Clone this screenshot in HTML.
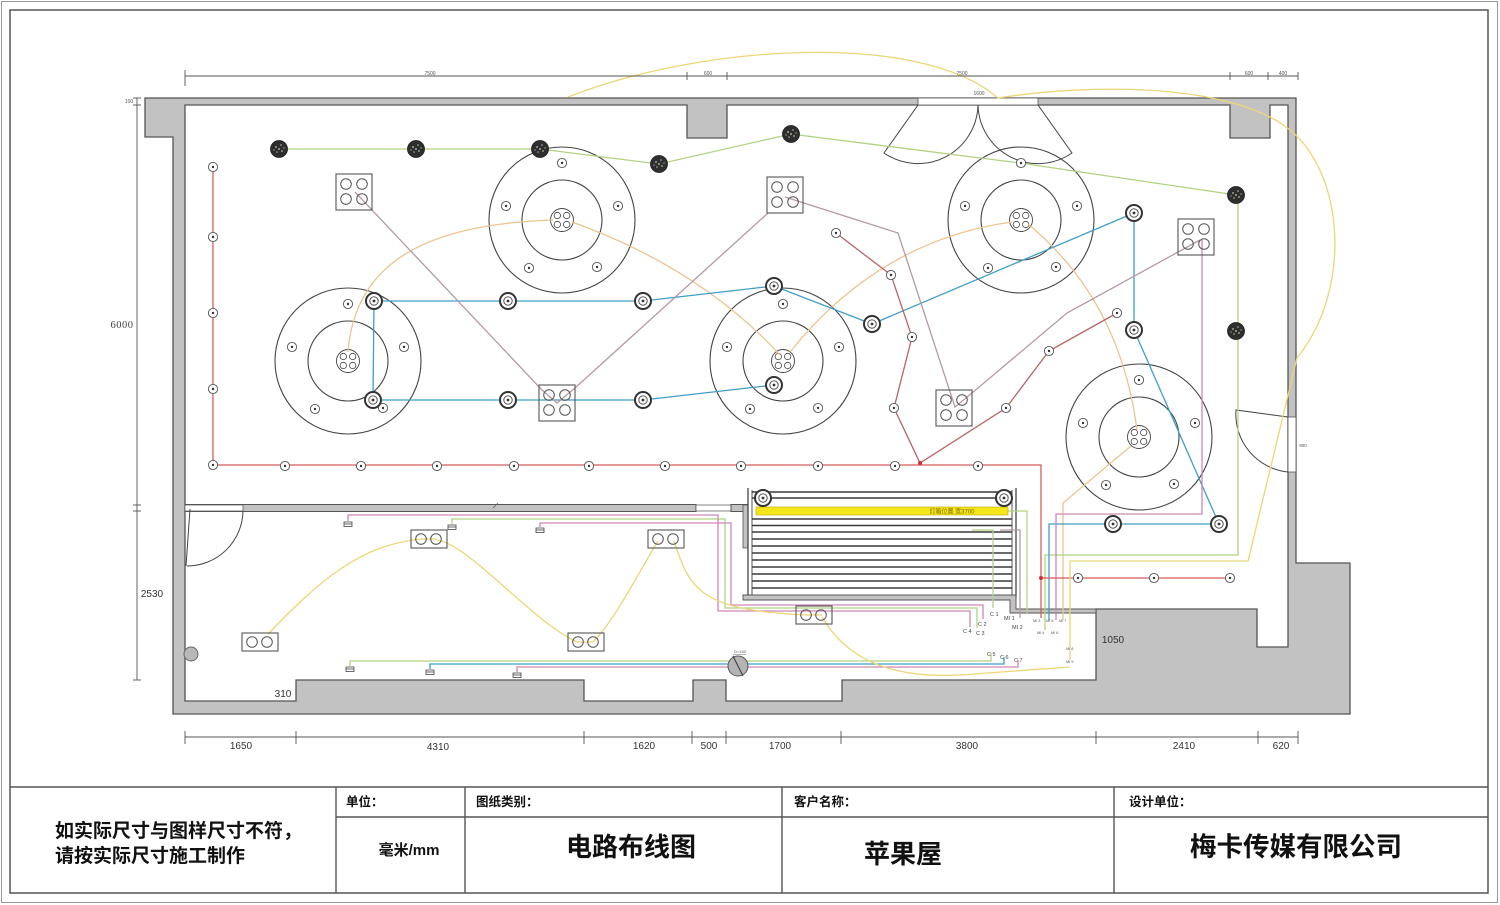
<!DOCTYPE html>
<html><head><meta charset="utf-8">
<style>
html,body{margin:0;padding:0;background:#fff;}
svg{display:block;}
text{font-family:"Liberation Sans","Noto Sans CJK SC",sans-serif;}
</style></head><body>
<svg width="1500" height="905" viewBox="0 0 1500 905" xmlns="http://www.w3.org/2000/svg" xmlns:xlink="http://www.w3.org/1999/xlink">
<defs>
 <g id="sp"><circle r="8" fill="#fff" stroke="#333" stroke-width="2"/><circle r="4.2" fill="none" stroke="#444" stroke-width="0.9"/><circle r="1.4" fill="#333"/></g>
 <g id="mk"><circle r="4.6" fill="#fff" stroke="#555" stroke-width="0.9"/><circle r="1.2" fill="#333"/></g>
 <g id="dl"><circle r="8.5" fill="#2e2e2e" stroke="#1e1e1e" stroke-width="0.8"/><circle cx="-3" cy="-2" r="1" fill="#9aa88a"/><circle cx="2" cy="-4" r="0.8" fill="#bbb"/><circle cx="3" cy="2" r="1" fill="#8a9a7a"/><circle cx="-2" cy="3" r="0.8" fill="#aaa"/><circle cx="0" cy="0" r="0.9" fill="#c8d0b0"/><circle cx="-5" cy="1" r="0.7" fill="#999"/><circle cx="5" cy="-1" r="0.7" fill="#9a9"/></g>
 <g id="fx"><circle r="73" fill="none" stroke="#444" stroke-width="1.1"/><circle r="40" fill="none" stroke="#444" stroke-width="1.1"/><circle r="11.5" fill="none" stroke="#444" stroke-width="0.9"/><circle cx="-4.7" cy="-4.5" r="3.2" fill="none" stroke="#444" stroke-width="0.8"/><circle cx="4.7" cy="-4.5" r="3.2" fill="none" stroke="#444" stroke-width="0.8"/><circle cx="-4.7" cy="4.5" r="3.2" fill="none" stroke="#444" stroke-width="0.8"/><circle cx="4.7" cy="4.5" r="3.2" fill="none" stroke="#444" stroke-width="0.8"/></g>
 <g id="fm"><use xlink:href="#mk" x="0" y="-57"/><use xlink:href="#mk" x="-56" y="-14"/><use xlink:href="#mk" x="56" y="-14"/><use xlink:href="#mk" x="-33" y="48"/><use xlink:href="#mk" x="35" y="47"/></g>
 <g id="q4"><rect x="0" y="0" width="36" height="36" fill="none" stroke="#555" stroke-width="1.1"/><circle cx="10" cy="10" r="5.3" fill="none" stroke="#555" stroke-width="1"/><circle cx="26" cy="10" r="5.3" fill="none" stroke="#555" stroke-width="1"/><circle cx="10" cy="25" r="5.3" fill="none" stroke="#555" stroke-width="1"/><circle cx="26" cy="25" r="5.3" fill="none" stroke="#555" stroke-width="1"/></g>
 <g id="q2"><rect x="0" y="0" width="36" height="18" fill="none" stroke="#555" stroke-width="1.1"/><circle cx="10" cy="9" r="5.3" fill="none" stroke="#555" stroke-width="1"/><circle cx="25" cy="9" r="5.3" fill="none" stroke="#555" stroke-width="1"/></g>
 <g id="sw"><rect x="-4" y="-2" width="8" height="4.5" fill="#fff" stroke="#444" stroke-width="0.8"/><line x1="-4" y1="0" x2="4" y2="0" stroke="#444" stroke-width="0.8"/></g>
</defs>

<rect x="1.5" y="1.5" width="1496" height="901" fill="none" stroke="#999" stroke-width="1"/>
<rect x="10" y="10" width="1478" height="883" fill="none" stroke="#555" stroke-width="1.5"/>

<polygon points="145,98 1296,98 1296,563 1350,563 1350,714 173,714 173,137 145,137" fill="#c2c2c2" stroke="#555" stroke-width="1.3"/>
<polygon points="185,105 687,105 687,138 727,138 727,105 1230,105 1230,138 1270,138 1270,105 1288,105 1288,647 1257,647 1257,609 1096,609 1096,680 842,680 842,701 726,701 726,680 693,680 693,701 584,701 584,680 296,680 296,701 185,701" fill="#fff" stroke="#555" stroke-width="1.3"/>

<rect x="918" y="98" width="120" height="7" fill="#fff" stroke="#555" stroke-width="0.8"/>
<path d="M918,105 L884,153 A60,60 0 0 0 978,105" fill="none" stroke="#444" stroke-width="1"/>
<path d="M1038,105 L1072,153 A60,60 0 0 1 978,105" fill="none" stroke="#444" stroke-width="1"/>
<text x="979" y="95" font-size="5" fill="#555" text-anchor="middle">1600</text>

<rect x="1288" y="417" width="8" height="55" fill="#fff" stroke="#555" stroke-width="0.8"/>
<path d="M1288,417 L1236,410 A58,58 0 0 0 1288,472" fill="none" stroke="#444" stroke-width="1"/>
<text x="1303" y="447" font-size="4.5" fill="#555" text-anchor="middle">900</text>

<rect x="185" y="504.5" width="511" height="7" fill="#c2c2c2" stroke="#555" stroke-width="1"/>
<rect x="696" y="505" width="35" height="6" fill="#fff" stroke="#555" stroke-width="0.7"/>
<rect x="731" y="504.5" width="17" height="7" fill="#c2c2c2" stroke="#555" stroke-width="1"/>
<rect x="743" y="505" width="5" height="43" fill="#c2c2c2" stroke="#555" stroke-width="0.8"/>
<rect x="185" y="505" width="58" height="6" fill="#fff" stroke="#555" stroke-width="0.7"/>
<path d="M243,511 A56,56 0 0 1 187,566" fill="none" stroke="#444" stroke-width="1"/>
<line x1="190" y1="509" x2="186" y2="566" stroke="#444" stroke-width="1"/>
<line x1="493" y1="508" x2="498" y2="503" stroke="#555" stroke-width="0.6"/>

<rect x="748" y="489" width="268" height="107" fill="#fff" stroke="none"/>
<line x1="748" y1="488" x2="748" y2="597" stroke="#444" stroke-width="1.3"/>
<line x1="752" y1="490" x2="752" y2="596" stroke="#444" stroke-width="0.9"/>
<line x1="1016" y1="488" x2="1016" y2="597" stroke="#444" stroke-width="1.3"/>
<line x1="1012" y1="490" x2="1012" y2="596" stroke="#444" stroke-width="0.9"/>
<g stroke="#3a3a3a" stroke-width="1.5">
<line x1="752" y1="492" x2="1012" y2="492"/><line x1="752" y1="498" x2="1012" y2="498"/>
<line x1="752" y1="519" x2="1012" y2="519"/><line x1="752" y1="525.5" x2="1012" y2="525.5"/>
<line x1="752" y1="532" x2="1012" y2="532"/><line x1="752" y1="539" x2="1012" y2="539"/>
<line x1="752" y1="546" x2="1012" y2="546"/><line x1="752" y1="553" x2="1012" y2="553"/>
<line x1="752" y1="560" x2="1012" y2="560"/><line x1="752" y1="567" x2="1012" y2="567"/>
<line x1="752" y1="574" x2="1012" y2="574"/><line x1="752" y1="581" x2="1012" y2="581"/>
<line x1="752" y1="588" x2="1012" y2="588"/>
</g>
<polygon points="743,595 1016,595 1016,609 1096,609 1096,613 1010,613 1010,600 743,600" fill="#c2c2c2" stroke="#555" stroke-width="0.9"/>
<rect x="756" y="507" width="252" height="8" fill="#f5e51c" stroke="#b8a800" stroke-width="0.6"/>
<text x="952" y="513.5" font-size="6" fill="#7a6a00" text-anchor="middle">灯箱位置 宽3700</text>

<use xlink:href="#fx" x="348" y="361"/>
<use xlink:href="#fx" x="562" y="220"/>
<use xlink:href="#fx" x="783" y="361"/>
<use xlink:href="#fx" x="1021" y="220"/>
<use xlink:href="#fx" x="1139" y="437"/>

<g fill="none" stroke-width="1.3">
 <g stroke="#ecc48f">
  <path d="M348,352 C355,260 430,224 553,220"/>
  <path d="M572,222 Q700,268 780,355"/>
  <path d="M790,352 Q880,240 1012,222"/>
  <path d="M1028,224 Q1120,300 1137,430"/>
  <polyline points="1131,446 1063,503 1063,620"/>
 </g>
 <g stroke="#b2d282">
  <polyline points="279,149 416,149 540,149 659,164 791,134 1020,163 1236,195 1238,202 1238,555 1045,555 1045,630"/>
  <polyline points="972,530 993,530 993,608"/>
  <polyline points="1008,511 1027,511 1027,613"/>
  <polyline points="452,524 452,519 725,519 725,608 977,608 977,628"/>
  <polyline points="350,666 350,661 991,661 991,653"/>
 </g>
 <g stroke="#3f9fc6">
  <polyline points="374,301 508,301 643,301 774,286 872,324 1134,213 1134,330 1219,524"/>
  <polyline points="374,301 373,400 508,400 643,400 774,385"/>
  <polyline points="1219,524 1049,524 1049,620"/>
  <polyline points="430,669 430,664 1004,664 1004,657"/>
 </g>
 <g stroke="#b49aa4">
  <polyline points="355,192 542,390 557,403 575,388 768,213"/>
  <polyline points="785,197 898,233 955,407 972,393 1067,313 1200,240"/>
  <polyline points="1000,530 1020,530 1020,618"/>
 </g>
 <g stroke="#cf86b2">
  <polyline points="1202,240 1202,514 1056,514 1056,620"/>
  <polyline points="348,521 348,515 718,515 718,611 970,611 970,627"/>
  <polyline points="540,527 540,523 731,523 731,605 983,605 983,619"/>
  <polyline points="517,672 517,667 1018,667 1018,660"/>
 </g>
 <polyline points="213,167 213,465 1041,465 1041,618" stroke="#d85a5a"/>
 <polyline points="836,233 891,275 912,337 894,408 920,463 1006,408 1049,351 1117,313" stroke="#b86464"/>
 <line x1="1041" y1="578" x2="1230" y2="578" stroke="#d85a5a"/>
 <g stroke="#ecd676">
  <path d="M568,97 C700,45 920,30 998,98"/>
  <path d="M998,98 C1100,82 1235,85 1290,130 C1345,175 1352,290 1297,358 L1248,561 L1070,561 L1070,660"/>
  <path d="M268,634 C320,580 360,545 421,539"/>
  <line x1="421" y1="539" x2="437" y2="539"/>
  <path d="M437,540 C470,545 530,620 577,642"/>
  <line x1="577" y1="642" x2="593" y2="642"/>
  <path d="M593,642 C615,620 640,570 658,541"/>
  <path d="M674,541 C690,590 700,610 806,615"/>
  <line x1="806" y1="615" x2="822" y2="615"/>
  <path d="M822,617 C850,665 900,678 960,675 L1070,667"/>
 </g>
</g>
<circle cx="920" cy="463" r="2" fill="#d03030"/>
<circle cx="1041" cy="578" r="2" fill="#d03030"/>

<use xlink:href="#fm" x="348" y="361"/>
<use xlink:href="#fm" x="562" y="220"/>
<use xlink:href="#fm" x="783" y="361"/>
<use xlink:href="#fm" x="1021" y="220"/>
<use xlink:href="#fm" x="1139" y="437"/>

<use xlink:href="#mk" x="213" y="167"/><use xlink:href="#mk" x="213" y="237"/><use xlink:href="#mk" x="213" y="313"/><use xlink:href="#mk" x="213" y="389"/><use xlink:href="#mk" x="213" y="465"/>
<use xlink:href="#mk" x="285" y="466"/><use xlink:href="#mk" x="361" y="466"/><use xlink:href="#mk" x="437" y="466"/><use xlink:href="#mk" x="514" y="466"/><use xlink:href="#mk" x="589" y="466"/><use xlink:href="#mk" x="665" y="466"/><use xlink:href="#mk" x="741" y="466"/><use xlink:href="#mk" x="818" y="466"/><use xlink:href="#mk" x="895" y="466"/><use xlink:href="#mk" x="978" y="466"/>
<use xlink:href="#mk" x="836" y="233"/><use xlink:href="#mk" x="891" y="275"/><use xlink:href="#mk" x="912" y="337"/><use xlink:href="#mk" x="894" y="408"/><use xlink:href="#mk" x="1006" y="408"/><use xlink:href="#mk" x="1049" y="351"/><use xlink:href="#mk" x="1117" y="313"/>
<use xlink:href="#mk" x="1078" y="578"/><use xlink:href="#mk" x="1154" y="578"/><use xlink:href="#mk" x="1230" y="578"/>

<use xlink:href="#sp" x="374" y="301"/><use xlink:href="#sp" x="373" y="400"/>
<use xlink:href="#sp" x="508" y="301"/><use xlink:href="#sp" x="508" y="400"/>
<use xlink:href="#sp" x="643" y="301"/><use xlink:href="#sp" x="643" y="400"/>
<use xlink:href="#sp" x="774" y="286"/><use xlink:href="#sp" x="774" y="385"/>
<use xlink:href="#sp" x="872" y="324"/>
<use xlink:href="#sp" x="1134" y="213"/><use xlink:href="#sp" x="1134" y="330"/>
<use xlink:href="#sp" x="1113" y="524"/><use xlink:href="#sp" x="1219" y="524"/>
<use xlink:href="#sp" x="763" y="498"/><use xlink:href="#sp" x="1004" y="498"/>

<use xlink:href="#dl" x="279" y="149"/><use xlink:href="#dl" x="416" y="149"/><use xlink:href="#dl" x="540" y="149"/><use xlink:href="#dl" x="659" y="164"/><use xlink:href="#dl" x="791" y="134"/><use xlink:href="#dl" x="1236" y="195"/><use xlink:href="#dl" x="1236" y="331"/>

<use xlink:href="#q4" x="336" y="174"/>
<use xlink:href="#q4" x="767" y="177"/>
<use xlink:href="#q4" x="1178" y="219"/>
<use xlink:href="#q4" x="539" y="385"/>
<use xlink:href="#q4" x="936" y="390"/>
<use xlink:href="#q2" x="411" y="530"/>
<use xlink:href="#q2" x="648" y="530"/>
<use xlink:href="#q2" x="242" y="633"/>
<use xlink:href="#q2" x="568" y="633"/>
<use xlink:href="#q2" x="796" y="606"/>

<use xlink:href="#sw" x="348" y="524"/><use xlink:href="#sw" x="452" y="527"/><use xlink:href="#sw" x="540" y="530"/>
<use xlink:href="#sw" x="350" y="669"/><use xlink:href="#sw" x="430" y="672"/><use xlink:href="#sw" x="517" y="675"/>

<circle cx="738" cy="666" r="10" fill="#b4b4b4" stroke="#555" stroke-width="1"/>
<line x1="733" y1="656" x2="743" y2="676" stroke="#333" stroke-width="1"/>
<text x="740" y="653" font-size="4" fill="#555" text-anchor="middle">D=150</text>
<line x1="733" y1="654.5" x2="746" y2="654.5" stroke="#666" stroke-width="0.5"/>
<circle cx="191" cy="654" r="7" fill="#b8b8b8" stroke="#666" stroke-width="1"/>

<g font-size="5.5" fill="#444">
<text x="990" y="616">C 1</text><text x="978" y="626">C 2</text><text x="963" y="633">C 4</text><text x="976" y="635">C 3</text>
<text x="1004" y="620">MI 1</text><text x="1012" y="629">MI 2</text>
<text x="987" y="656">C 5</text><text x="1000" y="659">C 6</text><text x="1014" y="662">C 7</text>
</g>
<g font-size="3.8" fill="#555">
<text x="1033" y="622">MI 3</text><text x="1046" y="622">MI 5</text><text x="1059" y="622">MI 7</text>
<text x="1037" y="634">MI 4</text><text x="1051" y="634">MI 6</text>
<text x="1066" y="650">MI 8</text><text x="1066" y="663">MI 9</text>
</g>

<g stroke="#555" stroke-width="0.9" fill="none">
 <line x1="185" y1="76" x2="1298" y2="76"/>
 <line x1="185" y1="70" x2="185" y2="86"/><line x1="687" y1="72" x2="687" y2="80"/><line x1="727" y1="72" x2="727" y2="80"/><line x1="1230" y1="72" x2="1230" y2="80"/><line x1="1268" y1="72" x2="1268" y2="80"/><line x1="1298" y1="72" x2="1298" y2="80"/>
 <line x1="137" y1="98" x2="137" y2="680"/>
 <line x1="133" y1="98" x2="141" y2="98"/><line x1="133" y1="105" x2="141" y2="105"/><line x1="133" y1="505" x2="141" y2="505"/><line x1="133" y1="511" x2="141" y2="511"/><line x1="133" y1="680" x2="141" y2="680"/>
 <line x1="185" y1="737" x2="1298" y2="737"/>
 <line x1="185" y1="731" x2="185" y2="744"/><line x1="296" y1="731" x2="296" y2="744"/><line x1="584" y1="731" x2="584" y2="744"/><line x1="692" y1="731" x2="692" y2="744"/><line x1="726" y1="731" x2="726" y2="744"/><line x1="841" y1="731" x2="841" y2="744"/><line x1="1096" y1="731" x2="1096" y2="744"/><line x1="1258" y1="731" x2="1258" y2="744"/><line x1="1298" y1="731" x2="1298" y2="744"/>
</g>
<g font-size="5" fill="#555" text-anchor="middle">
<text x="430" y="75">7500</text><text x="708" y="75">600</text><text x="962" y="75">7500</text><text x="1249" y="75">600</text><text x="1283" y="75">400</text>
<text x="129" y="103">100</text>
</g>
<text x="122" y="328" font-size="10.5" fill="#444" text-anchor="middle" style="font-family:'Liberation Serif',serif;letter-spacing:0.5px">6000</text>
<g font-size="10" fill="#333" text-anchor="middle">
<text x="152" y="597">2530</text>
<text x="241" y="749">1650</text><text x="438" y="750">4310</text><text x="644" y="749">1620</text><text x="709" y="749">500</text><text x="780" y="749">1700</text><text x="967" y="749">3800</text><text x="1184" y="749">2410</text><text x="1281" y="749">620</text>
<text x="283" y="697">310</text>
<text x="1113" y="643">1050</text>
</g>

<g stroke="#555" stroke-width="1.4">
<line x1="10" y1="787" x2="1488" y2="787"/>
<line x1="336" y1="817" x2="1488" y2="817"/>
<line x1="336" y1="787" x2="336" y2="893"/>
<line x1="465" y1="787" x2="465" y2="893"/>
<line x1="782" y1="787" x2="782" y2="893"/>
<line x1="1114" y1="787" x2="1114" y2="893"/>
</g>
<g font-weight="bold" fill="#111">
<text x="55" y="837" font-size="19">如实际尺寸与图样尺寸不符，</text>
<text x="55" y="862" font-size="19">请按实际尺寸施工制作</text>
<text x="346" y="806" font-size="12.5">单位：</text>
<text x="476" y="806" font-size="12.5">图纸类别：</text>
<text x="794" y="806" font-size="12.5">客户名称：</text>
<text x="1129" y="806" font-size="12.5">设计单位：</text>
<text x="409" y="855" font-size="15" text-anchor="middle">毫米/mm</text>
<text x="631" y="856" font-size="26" text-anchor="middle">电路布线图</text>
<text x="903" y="863" font-size="26" text-anchor="middle">苹果屋</text>
<text x="1296" y="856" font-size="26.5" text-anchor="middle">梅卡传媒有限公司</text>
</g>
</svg>
</body></html>
